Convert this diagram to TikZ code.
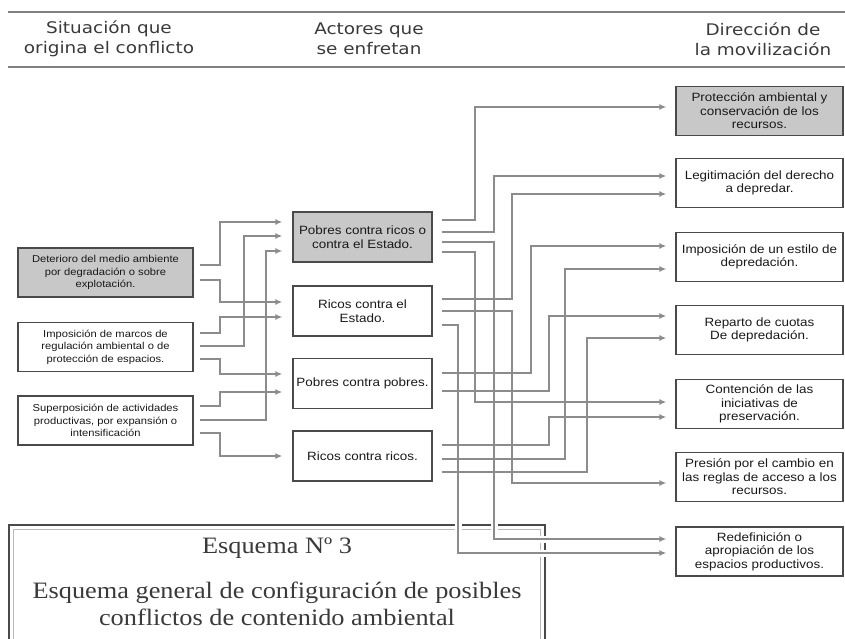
\documentclass[tikz,border=0pt]{standalone}
\usepackage{fontspec}
\setmainfont[FakeStretch=1.12]{Liberation Sans}
\newfontfamily\headfont[FakeStretch=1.15]{DejaVu Sans}
\newfontfamily\capfont[FakeStretch=1.12]{Liberation Serif}
\usetikzlibrary{arrows.meta}

\definecolor{linegray}{HTML}{8C8C8C}
\definecolor{boxgray}{HTML}{C8C8C8}
\definecolor{framegray}{HTML}{4A4A4A}
\definecolor{textgray}{HTML}{3A3A3A}

\tikzset{
  head/.style={align=center, inner sep=0pt, text=textgray, font=\headfont\fontsize{16}{20}\selectfont},
  rule/.style={draw=gray, line width=1.8pt},
  box/.style={draw=framegray, line width=1.3pt, align=center, inner sep=0pt, text=black!90},
  lbox/.style={box, minimum width=175, minimum height=49, font=\fontsize{10}{12.5}\selectfont},
  mbox/.style={box, minimum width=139, minimum height=50, font=\fontsize{12}{14}\selectfont},
  rbox/.style={box, minimum width=167, minimum height=49, font=\fontsize{12}{13.5}\selectfont},
  conn/.style={draw=linegray, line width=1.6pt, -{Latex[length=7pt,width=6pt]}},
  halo/.style={draw=white, line width=7pt},
  captxt/.style={align=center, inner sep=0pt, text=textgray, font=\capfont\fontsize{23.5}{27}\selectfont}
}

\begin{document}
\begin{tikzpicture}[x=1pt,y=-1pt]
  \useasboundingbox (0,0) rectangle (845,639);

  \draw[rule] (8,12) -- (845,12);
  \draw[rule] (8,67) -- (845,67);

  \begin{scope}[every node/.style={head}]
    \node (hsit) at (109,39) {Situación que\\origina el conflicto};
    \node (hact) at (369,39) {Actores que\\se enfretan};
    \node (hdir) at (763,39) {Dirección de\\la movilización};
  \end{scope}

  \begin{scope}[every node/.style={lbox}]
    \node[fill=boxgray] (l1) at (105.5,272.5) {Deterioro del medio ambiente\\por degradación o sobre\\explotación.};
    \node (l2) at (105.5,347) {Imposición de marcos de\\regulación ambiental o de\\protección de espacios.};
    \node (l3) at (105.5,420.5) {Superposición de actividades\\productivas, por expansión o\\intensificación};
  \end{scope}

  \begin{scope}[every node/.style={mbox}]
    \node[fill=boxgray] (m1) at (362.5,237) {Pobres contra ricos o\\contra el Estado.};
    \node (m2) at (362.5,311) {Ricos contra el\\Estado.};
    \node (m3) at (362.5,383.5) {Pobres contra pobres.};
    \node (m4) at (362.5,456) {Ricos contra ricos.};
  \end{scope}

  \begin{scope}[every node/.style={rbox}]
    \node[fill=boxgray] (r1) at (759.5,111) {Protección ambiental y\\conservación de los\\recursos.};
    \node (r2) at (759.5,183) {Legitimación del derecho\\a depredar.};
    \node (r3) at (759.5,257) {Imposición de un estilo de\\depredación.};
    \node (r4) at (759.5,330) {Reparto de cuotas\\De depredación.};
    \node (r5) at (759.5,404) {Contención de las\\iniciativas de\\preservación.};
    \node (r6) at (759.5,477) {Presión por el cambio en\\las reglas de acceso a los\\recursos.};
    \node (r7) at (759.5,551.5) {Redefinición o\\apropiación de los\\espacios productivos.};
  \end{scope}

  \draw[framegray, line width=1.5pt] (9,525) rectangle (545,660);
  \draw[gray!55, line width=1pt] (13.5,529.5) rectangle (540.5,660);
  \node[captxt] (cap1) at (277,548) {Esquema Nº 3};
  \node[captxt] (cap2) at (277,604) {Esquema general de configuración de posibles\\conflictos de contenido ambiental};

  \draw[halo] ([shift={(9,5)}]m1.east) -| (494,539) -- ([shift={(-9,-12.5)}]r7.west);
  \draw[halo] ([shift={(9,14)}]m2.east) -| (458,553) -- ([shift={(-9,1.5)}]r7.west);

  \begin{scope}[every path/.style={conn}]
    \draw ([shift={(6,-7.5)}]l1.east) -| (220,222) -- ([shift={(-10,-15)}]m1.west);
    \draw ([shift={(6,7.5)}]l1.east) -| (220,302) -- ([shift={(-10,-9)}]m2.west);
    \draw ([shift={(6,-14)}]l2.east) -| (220,317) -- ([shift={(-10,6)}]m2.west);
    \draw ([shift={(6,-1)}]l2.east) -| (244,236) -- ([shift={(-10,-1)}]m1.west);
    \draw ([shift={(6,12)}]l2.east) -| (220,374) -- ([shift={(-10,-9.5)}]m3.west);
    \draw ([shift={(6,-14.5)}]l3.east) -| (220,392) -- ([shift={(-10,8.5)}]m3.west);
    \draw ([shift={(6,-0.5)}]l3.east) -| (266,251) -- ([shift={(-10,14)}]m1.west);
    \draw ([shift={(6,12.5)}]l3.east) -| (220,456) -- ([shift={(-10,0)}]m4.west);

    \draw ([shift={(9,-17)}]m1.east) -| (475,107) -- ([shift={(-9,-4)}]r1.west);
    \draw ([shift={(9,-5)}]m1.east) -| (494,176) -- ([shift={(-9,-7)}]r2.west);
    \draw ([shift={(9,5)}]m1.east) -| (494,539) -- ([shift={(-9,-12.5)}]r7.west);
    \draw ([shift={(9,15)}]m1.east) -| (475,402) -- ([shift={(-9,-2)}]r5.west);
    \draw ([shift={(9,-12)}]m2.east) -| (512,194) -- ([shift={(-9,11)}]r2.west);
    \draw ([shift={(9,0)}]m2.east) -| (512,483) -- ([shift={(-9,6)}]r6.west);
    \draw ([shift={(9,14)}]m2.east) -| (458,553) -- ([shift={(-9,1.5)}]r7.west);
    \draw ([shift={(9,-10.5)}]m3.east) -| (531,246) -- ([shift={(-9,-11)}]r3.west);
    \draw ([shift={(9,7.5)}]m3.east) -| (549,316) -- ([shift={(-9,-14)}]r4.west);
    \draw ([shift={(9,-11)}]m4.east) -| (549,417) -- ([shift={(-9,13)}]r5.west);
    \draw ([shift={(9,3)}]m4.east) -| (565,269) -- ([shift={(-9,12)}]r3.west);
    \draw ([shift={(9,16)}]m4.east) -| (587,338) -- ([shift={(-9,8)}]r4.west);
  \end{scope}
\end{tikzpicture}
\end{document}
